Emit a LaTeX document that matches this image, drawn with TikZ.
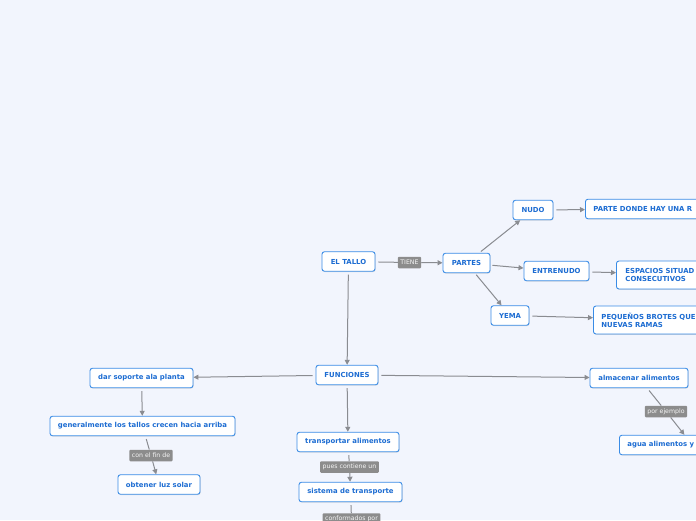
\documentclass[tikz,border=0pt]{standalone}
\usepackage{fontspec}
\setmainfont{DejaVu Sans}
\usetikzlibrary{arrows.meta,shadows}
\definecolor{bg}{RGB}{242,245,253}
\definecolor{boxblue}{RGB}{58,140,230}
\definecolor{txtblue}{RGB}{28,108,210}
\definecolor{lblgray}{RGB}{140,140,140}
\definecolor{linegray}{RGB}{138,140,145}
\begin{document}
\begin{tikzpicture}[x=1pt,y=-1pt,
  box/.style={draw=boxblue, line width=0.9pt, fill=white, rounded corners=2.5pt, text=txtblue,
    font=\fontsize{6.9}{8}\selectfont\bfseries, inner xsep=4pt, inner ysep=0pt, minimum height=19.5pt,
    drop shadow={shadow xshift=0.6pt, shadow yshift=-0.8pt, opacity=0.25}},
  lbl/.style={fill=lblgray, text=white!92!lblgray, rounded corners=1pt,
    font=\fontsize{6.2}{6.5}\selectfont, inner xsep=2.5pt, inner ysep=0pt, minimum height=11.5pt},
  conn/.style={draw=linegray, line width=1pt},
  arr/.style={conn, -{Triangle[length=5pt,width=5pt]}},
]
\useasboundingbox (0,0) rectangle (696,520);
\fill[bg] (0,0) rectangle (696,520);
\clip (0,0) rectangle (696,520);

\node[box, minimum width=53pt] (tallo) at (348.5,261.5) {EL TALLO};
\node[lbl] (tiene) at (409.5,262.5) {TIENE};
\node[box, minimum width=47pt] (partes) at (466.5,263) {PARTES};
\node[box, minimum width=40pt] (nudo) at (533,210) {NUDO};
\node[box, anchor=west, text width=150pt, align=left, inner xsep=8pt] (parte) at (585,209) {PARTE DONDE HAY UNA R};
\node[box, minimum width=65pt] (entre) at (556.5,271) {ENTRENUDO};
\node[box, anchor=west, text width=150pt, align=left, inner xsep=9pt, minimum height=28pt] (esp) at (616,275) {ESPACIOS SITUAD\\CONSECUTIVOS};
\node[box, minimum width=38pt] (yema) at (510,315.5) {YEMA};
\node[box, anchor=west, text width=150pt, align=left, inner xsep=8pt, minimum height=28pt] (peq) at (593,320) {PEQUEÑOS BROTES QUE\\NUEVAS RAMAS};
\node[box, minimum width=62pt] (func) at (347,375) {FUNCIONES};
\node[box, minimum width=103pt] (soporte) at (141.5,378) {dar soporte ala planta};
\node[box, minimum width=185pt] (gen) at (142.5,426) {generalmente los tallos crecen hacia arriba};
\node[lbl] (fin) at (151,455.5) {con el fin de};
\node[box, minimum width=82pt] (luz) at (159,484.5) {obtener luz solar};
\node[box, minimum width=102pt] (trans) at (348,442) {transportar alimentos};
\node[lbl] (pues) at (349.5,467) {pues contiene un};
\node[box, minimum width=103pt] (sist) at (350.5,492) {sistema de transporte};
\node[lbl] (conf) at (351.5,519) {conformados por};
\node[box, minimum width=98pt] (alm) at (639,378) {almacenar alimentos};
\node[lbl] (ej) at (666,411.5) {por ejemplo};
\node[box, anchor=west, text width=130pt, align=left, inner xsep=8pt] (agua) at (619,445) {agua alimentos y};

\draw[conn, shorten <=3pt] (tallo) -- (tiene);
\draw[arr] (tiene) -- (partes);
\draw[arr, shorten <=3pt] (tallo) -- (func);
\draw[arr, shorten <=2pt] (partes) -- (nudo);
\draw[arr, shorten <=2pt] (partes) -- (entre);
\draw[arr, shorten <=2pt] (partes) -- (yema);
\draw[arr, shorten <=3pt] (nudo) -- (parte);
\draw[arr, shorten <=3pt] (entre) -- (esp);
\draw[arr, shorten <=3pt] (yema) -- (peq);
\draw[arr, shorten <=3pt] (func) -- (soporte);
\draw[arr, shorten <=3pt] (func) -- (alm);
\draw[arr, shorten <=3pt] (func) -- (trans);
\draw[arr, shorten <=3pt] (soporte) -- (gen);
\draw[conn, shorten <=3pt] (gen) -- (fin);
\draw[arr] (fin) -- (luz);
\draw[conn, shorten <=3pt] (trans) -- (pues);
\draw[arr] (pues) -- (sist);
\draw[conn, shorten <=3pt] (sist) -- (conf);
\draw[conn, shorten <=3pt] (alm) -- (ej);
\draw[arr] (ej) -- (agua);
\end{tikzpicture}
\end{document}
